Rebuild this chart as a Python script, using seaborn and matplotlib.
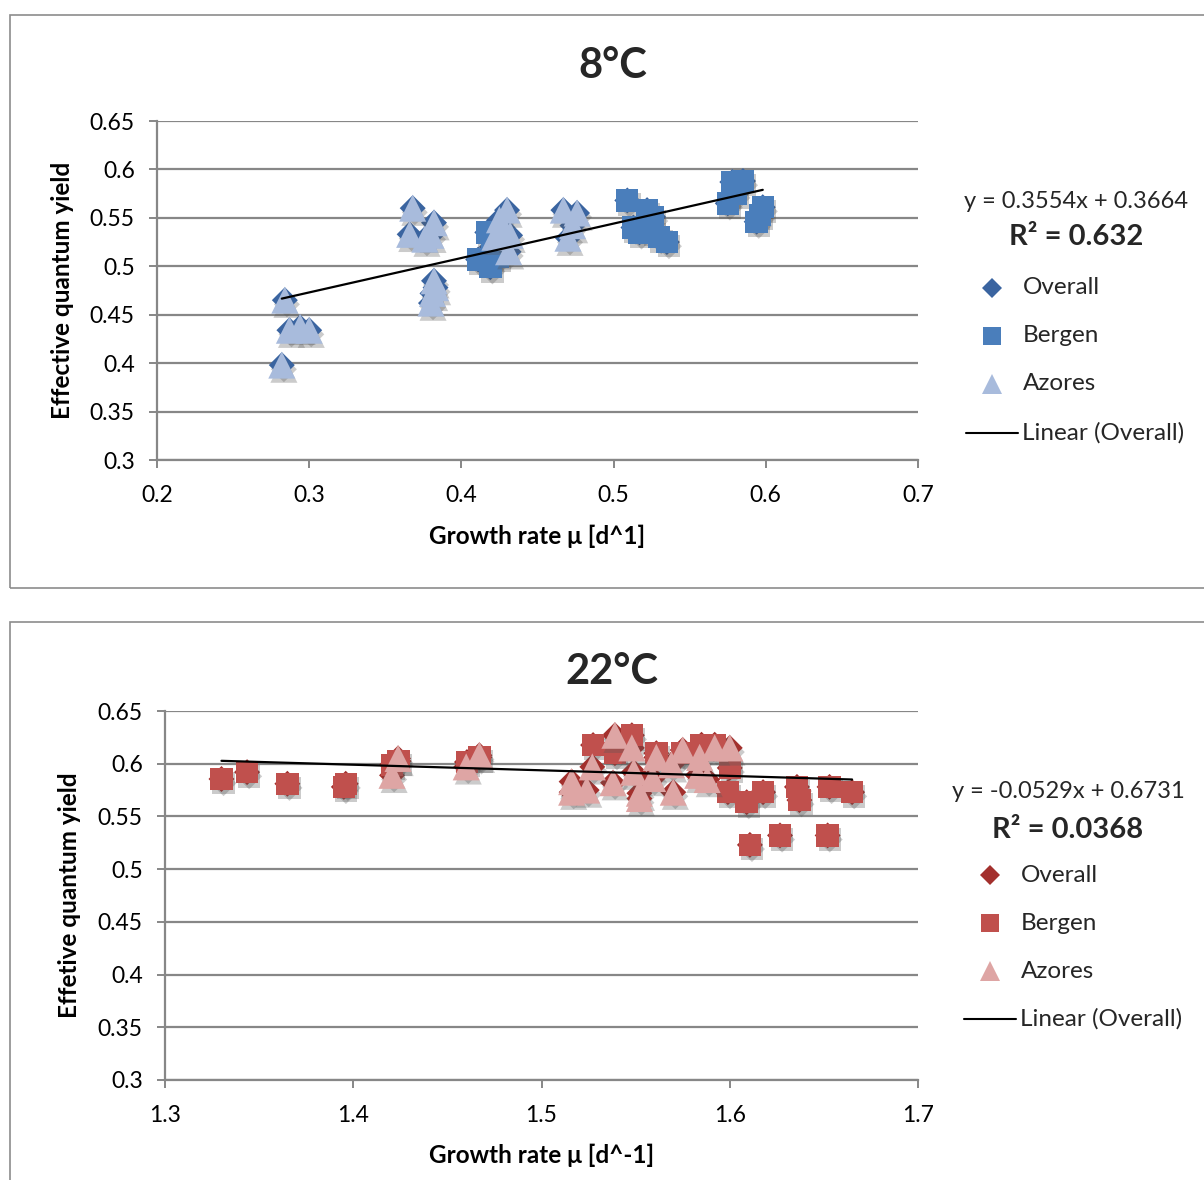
import matplotlib
matplotlib.use("Agg")
import matplotlib.pyplot as plt
import matplotlib.patheffects as pe
from matplotlib.lines import Line2D
from matplotlib.patches import Rectangle
import numpy as np
import pandas as pd
import seaborn as sns

# ---- 8 °C data ----
azores8_x = [0.284, 0.287, 0.294, 0.300, 0.282,
             0.368, 0.366, 0.376, 0.382, 0.380,
             0.382, 0.381, 0.380, 0.383,
             0.430, 0.427, 0.432, 0.431, 0.422, 0.425,
             0.467, 0.476, 0.470, 0.473]
azores8_y = [0.465, 0.434, 0.437, 0.434, 0.398,
             0.560, 0.533, 0.528, 0.545, 0.532,
             0.485, 0.472, 0.462, 0.478,
             0.558, 0.540, 0.532, 0.515, 0.530, 0.548,
             0.558, 0.555, 0.529, 0.542]
bergen8_x = [0.417, 0.411, 0.419, 0.420, 0.424,
             0.509, 0.513, 0.522, 0.526, 0.535, 0.530, 0.517, 0.526,
             0.578, 0.598, 0.594, 0.575, 0.585, 0.580, 0.596]
bergen8_y = [0.535, 0.507, 0.499, 0.520, 0.510,
             0.568, 0.540, 0.558, 0.537, 0.525, 0.530, 0.535, 0.551,
             0.587, 0.561, 0.546, 0.565, 0.588, 0.575, 0.553]
slope8, intercept8, r2_8 = 0.3554, 0.3664, 0.632

# ---- 22 °C data ----
azores22_x = [1.4238, 1.4206, 1.467, 1.460,
              1.539, 1.548, 1.527, 1.516, 1.516, 1.524, 1.538, 1.549,
              1.552, 1.552, 1.561, 1.559, 1.570, 1.569, 1.575, 1.583,
              1.584, 1.592, 1.588, 1.600]
azores22_y = [0.605, 0.589, 0.608, 0.597,
              0.627, 0.615, 0.597, 0.583, 0.573, 0.575, 0.582, 0.592,
              0.572, 0.567, 0.606, 0.586, 0.573, 0.599, 0.613, 0.589,
              0.606, 0.615, 0.585, 0.615]
bergen22_x = [1.330, 1.3436, 1.365, 1.395, 1.396, 1.4206, 1.424, 1.4604, 1.467,
              1.5274, 1.548, 1.539, 1.561, 1.575, 1.585, 1.592, 1.600, 1.599,
              1.609, 1.6177, 1.6107, 1.6267, 1.6357, 1.637, 1.653, 1.652, 1.665]
bergen22_y = [0.5855, 0.592, 0.581, 0.578, 0.581, 0.599, 0.6025, 0.6016, 0.606,
              0.6177, 0.627, 0.610, 0.610, 0.610, 0.618, 0.618, 0.596, 0.573,
              0.5635, 0.573, 0.523, 0.532, 0.578, 0.5655, 0.578, 0.532, 0.573]
slope22, intercept22, r2_22 = -0.0529, 0.6731, 0.0368

W, H = 1204, 1180
sns.set_theme(style="white")
plt.rcParams["font.family"] = ["Lato", "DejaVu Sans"]

fig = plt.figure(figsize=(W / 100, H / 100), dpi=100)


def fx(px):
    return px / W


def fy(py):
    return 1 - py / H


GRID = "#878787"
shadow = [pe.SimplePatchShadow(offset=(1.5, -3), shadow_rgbFace="#555555", alpha=0.3),
          pe.Normal()]


def panel(box, axrect, xs_b, ys_b, xs_a, ys_a, c_all, c_b, c_a,
          xlim, xticks, xlabel, ylabel, title, title_xy,
          slope, intercept, r2, leg, ylab_x, xlab_y):
    # outer chart border
    bx0, by0, bx1, by1 = box
    fig.add_artist(Rectangle((fx(bx0), fy(by1)), fx(bx1 - bx0), (by1 - by0) / H,
                             transform=fig.transFigure, fill=False,
                             edgecolor="#8c8c8c", linewidth=1.2))
    l, t, r, b = axrect
    ax = fig.add_axes([fx(l), fy(b), fx(r - l), (b - t) / H])

    df_b = pd.DataFrame({"x": xs_b, "y": ys_b})
    df_a = pd.DataFrame({"x": xs_a, "y": ys_a})
    df_all = pd.concat([df_b, df_a], ignore_index=True)

    sns.scatterplot(data=df_all, x="x", y="y", ax=ax, marker="D", s=175,
                    color=c_all, edgecolor="none", linewidth=0, zorder=3)
    sns.scatterplot(data=df_b, x="x", y="y", ax=ax, marker="s", s=260,
                    color=c_b, edgecolor="none", linewidth=0, zorder=4)
    sns.scatterplot(data=df_a, x="x", y="y", ax=ax, marker="^", s=380,
                    color=c_a, edgecolor="none", linewidth=0, zorder=5)
    for coll in ax.collections:
        coll.set_path_effects(shadow)

    # linear trend of the overall series
    tx = np.array([df_all["x"].min(), df_all["x"].max()])
    ax.plot(tx, slope * tx + intercept, color="black", lw=1.6, zorder=6)

    ax.set_xlim(*xlim)
    ax.set_ylim(0.3, 0.65)
    ax.set_xticks(xticks)
    ax.set_xticklabels([f"{v:g}" for v in xticks])
    yt = [0.3, 0.35, 0.4, 0.45, 0.5, 0.55, 0.6, 0.65]
    ax.set_yticks(yt)
    ax.set_yticklabels([f"{v:g}" for v in yt])
    ax.yaxis.grid(True, color=GRID, linewidth=1.6)
    ax.xaxis.grid(False)
    for s in ["top", "right"]:
        ax.spines[s].set_visible(False)
    for s in ["left", "bottom"]:
        ax.spines[s].set_color(GRID)
        ax.spines[s].set_linewidth(1.6)
    ax.tick_params(axis="both", which="major", direction="out", length=6,
                   width=1.4, color=GRID, labelsize=16.5, labelcolor="black")
    ax.tick_params(axis="y", pad=10, left=True)
    ax.tick_params(axis="x", pad=12, bottom=True)

    ax.set_xlabel(xlabel, fontsize=17.5, fontweight="bold", color="black")
    ax.set_ylabel(ylabel, fontsize=17.5, fontweight="bold", color="black")
    ax.xaxis.set_label_coords(0.5, xlab_y)
    ax.xaxis.label.set_verticalalignment("center")
    ax.yaxis.set_label_coords(ylab_x, 0.5)
    ax.yaxis.label.set_verticalalignment("center")

    fig.text(fx(title_xy[0]), fy(title_xy[1]), title, fontsize=30,
             fontweight="bold", ha="center", va="center")

    # legend block on the right
    ex, ey, ry, rows, mx, tx0, lx0, lx1 = leg
    sign = "+" if intercept >= 0 else "-"
    fig.text(fx(ex), fy(ey), f"y = {slope:g}x {sign} {abs(intercept):g}",
             fontsize=17, ha="center", va="center")
    fig.text(fx(ex), fy(ry), f"R² = {r2:g}", fontsize=21, fontweight="bold",
             ha="center", va="center")
    entries = [("Overall", "D", 10.5, c_all), ("Bergen", "s", 13.5, c_b),
               ("Azores", "^", 14, c_a)]
    for (lab, mk, ms, col), yy in zip(entries, rows[:3]):
        fig.add_artist(Line2D([fx(mx)], [fy(yy)], marker=mk, markersize=ms,
                              color=col, markeredgewidth=0, linestyle="none",
                              transform=fig.transFigure))
        fig.text(fx(tx0), fy(yy), lab, fontsize=17.5, ha="left", va="center")
    fig.add_artist(Line2D([fx(lx0), fx(lx1)], [fy(rows[3]), fy(rows[3])],
                          color="black", lw=1.5, transform=fig.transFigure))
    fig.text(fx(lx1 + 4), fy(rows[3]), "Linear (Overall)", fontsize=17.5,
             ha="left", va="center")
    return ax


panel(box=(10, 15, 1215, 588), axrect=(157, 121, 918, 460),
      xs_b=bergen8_x, ys_b=bergen8_y, xs_a=azores8_x, ys_a=azores8_y,
      c_all="#3A64A0", c_b="#4A7EBB", c_a="#A8BBDC",
      xlim=(0.2, 0.7), xticks=[0.2, 0.3, 0.4, 0.5, 0.6, 0.7],
      xlabel="Growth rate μ [d^1]", ylabel="Effective quantum yield",
      title="8°C", title_xy=(613, 66),
      slope=slope8, intercept=intercept8, r2=r2_8,
      leg=(1076, 201, 237, [288, 336, 384, 433], 992, 1023, 966, 1018),
      ylab_x=(62 - 157) / 761, xlab_y=(460 - 536) / 339)

panel(box=(10, 622, 1215, 1195), axrect=(165, 711, 918, 1080),
      xs_b=bergen22_x, ys_b=bergen22_y, xs_a=azores22_x, ys_a=azores22_y,
      c_all="#A3302D", c_b="#C0504D", c_a="#DEA5A4",
      xlim=(1.3, 1.7), xticks=[1.3, 1.4, 1.5, 1.6, 1.7],
      xlabel="Growth rate μ [d^-1]", ylabel="Effetive quantum yield",
      title="22°C", title_xy=(612, 672),
      slope=slope22, intercept=intercept22, r2=r2_22,
      leg=(1068, 791, 830, [875, 923, 971, 1019], 990, 1021, 964, 1016),
      ylab_x=(70 - 165) / 753, xlab_y=(1080 - 1155) / 369)

fig.savefig("out.png", dpi=100, facecolor="white")
